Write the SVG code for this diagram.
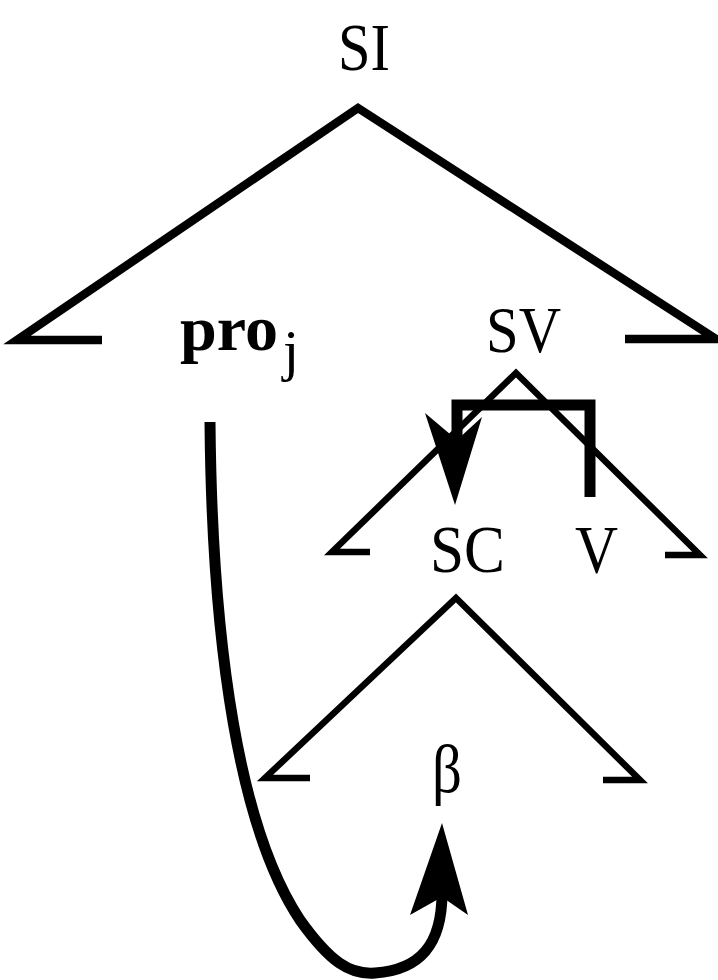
<svg xmlns="http://www.w3.org/2000/svg" width="718" height="980" viewBox="0 0 718 980">
<style>
.lbl{font-family:"Liberation Serif","DejaVu Serif",serif;fill:#000;}
.br{fill:none;stroke:#000;stroke-linecap:butt;stroke-linejoin:miter;}
.thick{stroke-width:8.5;}
.mid{stroke-width:6.5;}
.mv{fill:none;stroke:#000;stroke-width:11;stroke-linecap:butt;}
.head{fill:#000;stroke:none;}
</style>
<rect width="718" height="980" fill="#fff"/>
<g id="connectors">
<path class="br thick" d="M102,340 H17 L358,108 L716,339 H625"/>
<path class="br mid" d="M370,552 H332 L516,373 L700,555 H665"/>
<path class="br mid" d="M310,778 H265 L456,598 L640,780 H603"/>
<path class="mv" d="M457,442 V405 H590 V497" stroke-linejoin="miter"/>
<polygon class="head" points="425,413 457,440 482,417 455,505"/>
<path class="mv" d="M210,422 C212,650 240,830 300,920 C330,962 350,975 375,973 C420,970 442,945 442,893"/>
<polygon class="head" points="442,823 468,915 442,897 410,915"/>
</g>
<g id="node-SI"><text class="lbl" x="338" y="70" font-size="68" textLength="52" lengthAdjust="spacingAndGlyphs">SI</text></g>
<g id="node-pro"><text class="lbl" x="180" y="350" font-size="64" font-weight="bold" textLength="98" lengthAdjust="spacingAndGlyphs">pro</text><text class="lbl" x="283" y="370" font-size="58">j</text></g>
<g id="node-SV"><text class="lbl" x="486" y="352" font-size="66" textLength="75" lengthAdjust="spacingAndGlyphs">SV</text></g>
<g id="node-SC"><text class="lbl" x="430" y="572" font-size="68" textLength="75" lengthAdjust="spacingAndGlyphs">SC</text></g>
<g id="node-V"><text class="lbl" x="575" y="572" font-size="68" textLength="43" lengthAdjust="spacingAndGlyphs">V</text></g>
<g id="node-beta"><text class="lbl" x="432" y="792" font-size="68" textLength="30" lengthAdjust="spacingAndGlyphs">β</text></g>
</svg>
